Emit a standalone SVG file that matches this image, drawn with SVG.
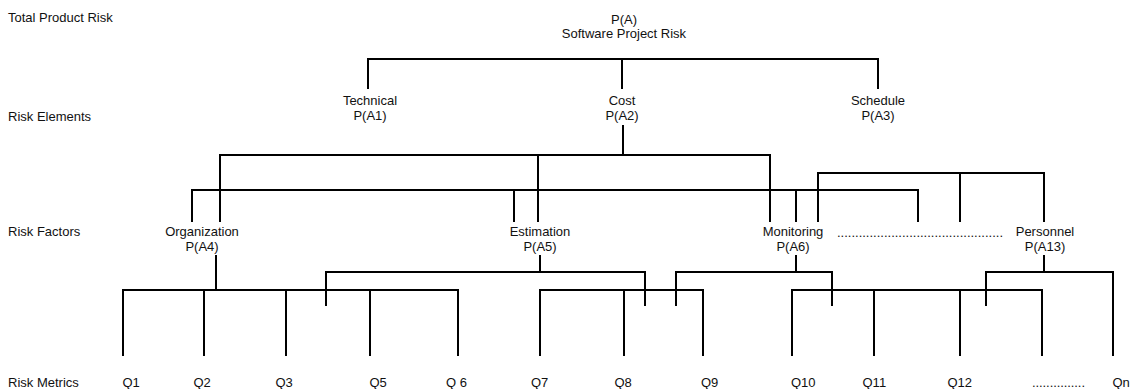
<svg xmlns="http://www.w3.org/2000/svg" width="1133" height="389" viewBox="0 0 1133 389">
  <style>
    text { font-family: "Liberation Sans", Arial, sans-serif; font-size: 13px; fill: #111; }
    .c { text-anchor: middle; }
    .wire { fill: none; stroke: #000; stroke-width: 2; stroke-linejoin: miter; }
  </style>

  <!-- level captions on the left -->
  <g id="levels">
    <text x="8" y="22">Total Product Risk</text>
    <text x="8" y="121">Risk Elements</text>
    <text x="8" y="236">Risk Factors</text>
    <text x="8" y="387">Risk Metrics</text>
  </g>

  <!-- connectors -->
  <g id="connectors" class="wire">
    <!-- project risk to elements -->
    <path d="M368,89 V59 H878 V89"/>
    <path d="M622,59 V89"/>
    <!-- cost to factors -->
    <path d="M623,125 V155"/>
    <path d="M220,222 V155 H770 V222"/>
    <path d="M538,155 V222"/>
    <path d="M192,222 V190 H918 V222"/>
    <path d="M514,190 V222"/>
    <path d="M796,190 V222"/>
    <path d="M818,222 V173 H1044 V222"/>
    <path d="M960,173 V222"/>
    <!-- organization to metrics -->
    <path d="M216,255 V290"/>
    <path d="M123,356 V290 H458 V356"/>
    <path d="M204,290 V356"/>
    <path d="M286,290 V356"/>
    <path d="M370,290 V356"/>
    <!-- estimation to metrics -->
    <path d="M540,255 V272"/>
    <path d="M326,306 V272 H645 V306"/>
    <path d="M540,356 V290 H703 V356"/>
    <path d="M624,290 V356"/>
    <!-- monitoring to metrics -->
    <path d="M796,255 V272"/>
    <path d="M676,306 V272 H832 V306"/>
    <path d="M792,356 V290 H1042 V356"/>
    <path d="M874,290 V356"/>
    <path d="M960,290 V356"/>
    <!-- personnel to metrics -->
    <path d="M1044,255 V273"/>
    <path d="M986,306 V272 H1113 V356"/>
  </g>

  <!-- top node -->
  <g id="node-pa">
    <text class="c" x="624" y="24">P(A)</text>
    <text class="c" x="624" y="38">Software Project Risk</text>
  </g>

  <!-- risk elements -->
  <g id="node-technical">
    <text class="c" x="370" y="105">Technical</text>
    <text class="c" x="370" y="120">P(A1)</text>
  </g>
  <g id="node-cost">
    <text class="c" x="622" y="105">Cost</text>
    <text class="c" x="622" y="120">P(A2)</text>
  </g>
  <g id="node-schedule">
    <text class="c" x="878" y="105">Schedule</text>
    <text class="c" x="878" y="120">P(A3)</text>
  </g>

  <!-- risk factors -->
  <g id="node-organization">
    <text class="c" x="202" y="236">Organization</text>
    <text class="c" x="202" y="251">P(A4)</text>
  </g>
  <g id="node-estimation">
    <text class="c" x="540" y="236">Estimation</text>
    <text class="c" x="540" y="251">P(A5)</text>
  </g>
  <g id="node-monitoring">
    <text class="c" x="793" y="236">Monitoring</text>
    <text class="c" x="793" y="251">P(A6)</text>
  </g>
  <g id="node-factor-more">
    <text x="837" y="237" textLength="166" lengthAdjust="spacing">..............................................</text>
  </g>
  <g id="node-personnel">
    <text class="c" x="1045" y="236">Personnel</text>
    <text class="c" x="1045" y="251">P(A13)</text>
  </g>

  <!-- risk metrics -->
  <g id="metrics">
    <text id="q1" x="122.5" y="387">Q1</text>
    <text id="q2" x="193.5" y="387">Q2</text>
    <text id="q3" x="275.5" y="387">Q3</text>
    <text id="q5" x="369.5" y="387">Q5</text>
    <text id="q6" x="446" y="387">Q 6</text>
    <text id="q7" x="531" y="387">Q7</text>
    <text id="q8" x="614.5" y="387">Q8</text>
    <text id="q9" x="701" y="387">Q9</text>
    <text id="q10" x="791" y="387">Q10</text>
    <text id="q11" x="862.5" y="387">Q11</text>
    <text id="q12" x="947.5" y="387">Q12</text>
    <text id="q-more" x="1032" y="387" textLength="53" lengthAdjust="spacing">...............</text>
    <text id="qn" x="1112.5" y="387">Qn</text>
  </g>
</svg>
